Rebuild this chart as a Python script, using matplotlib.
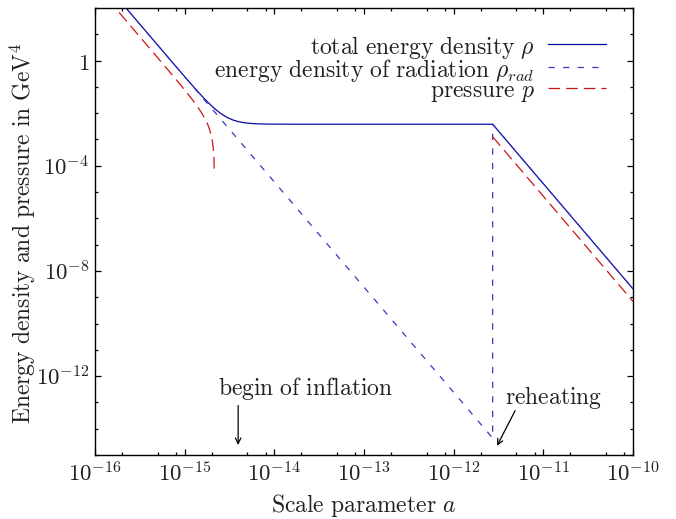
"""
Plot: energy density and pressure vs scale parameter (inflation + reheating)
"""

import matplotlib
matplotlib.use("Agg")
import matplotlib.pyplot as plt
from matplotlib.lines import Line2D
from matplotlib.ticker import FixedLocator, FixedFormatter, NullFormatter

FIGSIZE = (6.76, 5.19)
DPI = 100

# values (log-log axes)
# total energy density rho
a_rho = [1e-16, 5e-16, 8e-16, 1.0e-15, 1.15e-15, 1.3e-15, 1.45e-15, 1.6e-15,
         1.8e-15, 2.0e-15, 2.2e-15, 2.5e-15, 2.75e-15, 3.0e-15, 3.5e-15,
         4.0e-15, 4.5e-15, 5.0e-15, 6.0e-15, 7.0e-15, 8.0e-15, 1.0e-14,
         2.0e-14, 2.72e-12, 1e-10]
rho = [2420, 3.876, 0.5946, 0.2458, 0.1422, 0.08853, 0.05855, 0.04073,
       0.02685, 0.01893, 0.01413, 0.009995, 0.008031, 0.006788, 0.005413,
       0.004745, 0.00439, 0.004187, 0.003987, 0.003901, 0.003859, 0.003824,
       0.0038, 0.0038, 2.08e-9]

# energy density of radiation rho_rad (drops at reheating, then equals rho)
a_rad = [1e-16, 2.72e-12, 2.72e-12, 1e-10]
rho_rad = [2420, 4.42e-15, 0.0038, 2.08e-9]

# pressure p, before inflation ...
a_p1 = [1e-16, 5e-16, 8e-16, 1.0e-15, 1.2e-15, 1.4e-15, 1.6e-15, 1.8e-15,
        1.9e-15, 2.0e-15, 2.05e-15, 2.1e-15, 2.12e-15, 2.135e-15, 2.14e-15]
p1 = [806.7, 1.2869, 0.19313, 0.07687, 0.0351, 0.0172, 0.00851, 0.003884,
      0.00239, 0.001242, 0.000768, 0.000348, 0.000194, 8.2e-5, 4.6e-5]
# ... and after reheating
a_p2 = [2.72e-12, 1e-10]
p2 = [1.267e-3, 6.93e-10]

x_major = [1e-16, 1e-15, 1e-14, 1e-13, 1e-12, 1e-11, 1e-10]
x_labels = ["$10^{-16}$", "$10^{-15}$", "$10^{-14}$", "$10^{-13}$",
            "$10^{-12}$", "$10^{-11}$", "$10^{-10}$"]
y_major = [1e-12, 1e-8, 1e-4, 1]
y_labels = ["$10^{-12}$", "$10^{-8}$", "$10^{-4}$", "$1$"]

C_RHO = "#0a0aa0"
C_RAD = "#3838c4"
C_P = "#cc1414"
TXT = "#222222"

plt.rcParams["mathtext.fontset"] = "cm"
plt.rcParams["axes.unicode_minus"] = False
plt.rcParams["lines.scale_dashes"] = False
FS = 17
FS_TICK = 16.5


def tex(s):
    # render plain words in computer modern roman via mathtext
    return r"$\mathrm{" + s.replace(" ", r"\ ") + "}$"


fig = plt.figure(figsize=FIGSIZE, dpi=DPI)
ax = fig.add_axes([0.1405, 0.1233, 0.7959, 0.8613])

ls_rad = (0, (4.5, 6.0))
ls_p = (0, (8.4, 4.3))
ax.plot(a_rho, rho, color=C_RHO, lw=0.9)
ax.plot(a_rad, rho_rad, color=C_RAD, lw=0.9, ls=ls_rad)
ax.plot(a_p1, p1, color=C_P, lw=0.9, ls=ls_p)
ax.plot(a_p2, p2, color=C_P, lw=0.9, ls=ls_p)

ax.set_xscale("log")
ax.set_yscale("log")
ax.set_xlim(1e-16, 1e-10)
ax.set_ylim(1e-15, 1e2)

ax.xaxis.set_major_locator(FixedLocator(x_major))
ax.xaxis.set_major_formatter(FixedFormatter(x_labels))
x_minor = [m * d for d in x_major[:-1] for m in (2, 5, 8)]
ax.xaxis.set_minor_locator(FixedLocator(x_minor))
ax.xaxis.set_minor_formatter(NullFormatter())

ax.yaxis.set_major_locator(FixedLocator(y_major))
ax.yaxis.set_major_formatter(FixedFormatter(y_labels))
y_minor = [10.0 ** k for k in range(-15, 3)]
ax.yaxis.set_minor_locator(FixedLocator(y_minor))
ax.yaxis.set_minor_formatter(NullFormatter())

ax.tick_params(which="both", direction="in", top=True, right=True,
               labelsize=FS_TICK, colors="black", labelcolor=TXT, width=0.9)
ax.tick_params(which="major", length=4.5)
ax.tick_params(axis="x", which="major", pad=5)
ax.tick_params(axis="y", which="major", pad=4)
ax.tick_params(which="minor", length=2.5)
for s in ax.spines.values():
    s.set_linewidth(1.0)

ax.set_xlabel(tex("Scale parameter") + r"$\ a$", fontsize=FS, color=TXT)
ax.set_ylabel(r"$\mathrm{Energy\ density\ and\ pressure\ in\ GeV}^4$",
              fontsize=FS, color=TXT)
ax.xaxis.label.set_va("center")
ax.yaxis.label.set_va("center")
ax.xaxis.set_label_coords(0.5, -0.113)
ax.yaxis.set_label_coords(-0.133, 0.495)

# legend, gnuplot style: right aligned text then sample line
leg_rows = [(r"$\mathrm{total\ energy\ density}\ \rho$", C_RHO, "-"),
            (r"$\mathrm{energy\ density\ of\ radiation}\ \rho_{rad}$",
             C_RAD, ls_rad),
            (r"$\mathrm{pressure}\ p$", C_P, ls_p)]
row_y = [0.9188, 0.8674, 0.8204]
for (lab, col, ls), yy in zip(leg_rows, row_y):
    ax.text(0.8175, yy, lab, transform=ax.transAxes, ha="right",
            va="center_baseline", fontsize=FS, color=TXT)
    ax.add_line(Line2D([0.8422, 0.9505], [yy, yy], transform=ax.transAxes,
                       color=col, lw=0.9, ls=ls))

# annotations
ax.text(2.26e-14, 4.7e-13, tex("begin of inflation"), ha="center",
        va="center_baseline", fontsize=FS, color=TXT)
ax.annotate("", xy=(3.95e-15, 1.9e-15), xytext=(3.95e-15, 9.7e-14),
            arrowprops=dict(arrowstyle="->", color="black", lw=0.9))
ax.text(1.31e-11, 2.1e-13, tex("reheating"), ha="center",
        va="center_baseline", fontsize=FS, color=TXT)
ax.annotate("", xy=(2.95e-12, 1.8e-15), xytext=(5.0e-12, 6.0e-14),
            arrowprops=dict(arrowstyle="->", color="black", lw=0.9))

fig.savefig("out.png", dpi=DPI)
plt.close(fig)
print("Saved: out.png")
